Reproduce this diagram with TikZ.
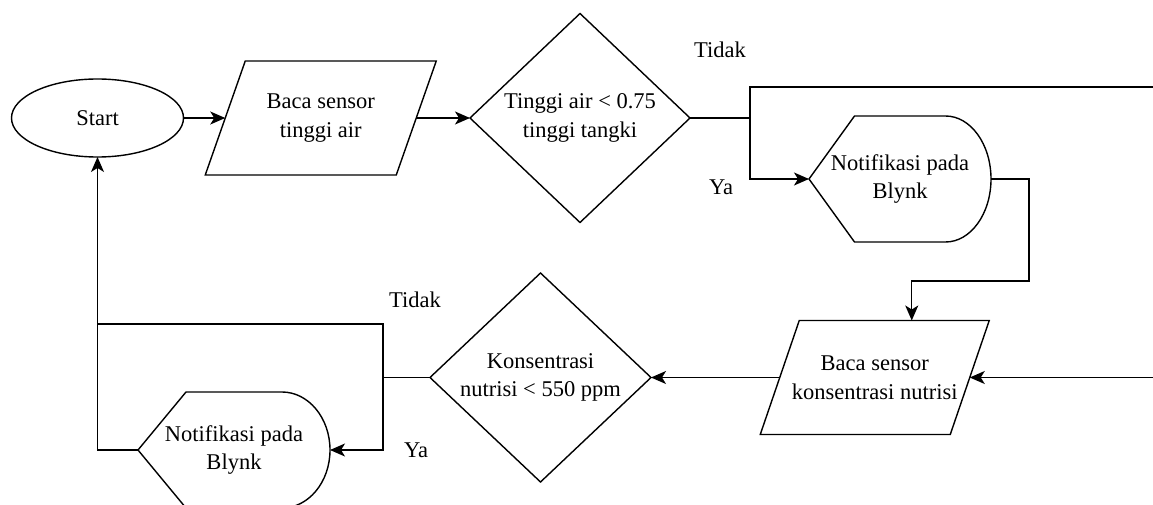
\documentclass[tikz,border=0pt]{standalone}
\usepackage{fontspec}
\setmainfont{Liberation Serif}
\usetikzlibrary{shapes.geometric,arrows.meta,calc}
\newcommand\drawpara[2]{%
  \draw[shp] ([xshift=#2]#1.north west) -- ([xshift=#2]#1.north east)
    -- ([xshift=-#2]#1.south east) -- ([xshift=-#2]#1.south west) -- cycle;}
% #1 name, #2 quarter width, #3 quarter width * 0.4477
\newcommand\drawdisplay[3]{%
  \draw[shp] (#1.west) -- ([xshift=#2]#1.north west) -- ([xshift=-#2]#1.north east)
    .. controls ([xshift=-#3]#1.north east) and ($(#1.east)!0.5523!(#1.north east)$) .. (#1.east)
    .. controls ($(#1.east)!0.5523!(#1.south east)$) and ([xshift=-#3]#1.south east) .. ([xshift=-#2]#1.south east)
    -- ([xshift=#2]#1.south west) -- cycle;}
\begin{document}
\begin{tikzpicture}[x=1pt,y=-1pt,
  line width=1.4pt,
  every node/.style={font=\fontsize{22.5}{28.5}\selectfont, inner sep=0pt, outer sep=0pt},
  shp/.style={draw=black, line width=1.4pt, line join=miter},
  box/.style={rectangle, align=center},
  dec/.style={diamond, shp, align=center},
  arr/.style={-{Stealth[length=15pt,width=13pt,inset=4pt]}}]
\useasboundingbox (0,0) rectangle (1153,505);
\clip (0,0) rectangle (1153,505);

% nodes
\node[ellipse, shp, minimum width=172pt, minimum height=78pt] (start) at (97.5,118) {Start};
\node[box, minimum width=191pt, minimum height=114pt] (p1) at (320.75,118) {Baca sensor\\tinggi air};
\node[dec, minimum width=220pt, minimum height=209pt] (d1) at (580,118) {Tinggi air < 0.75\\tinggi tangki};
\node[box, minimum width=182pt, minimum height=126pt] (b1) at (900,179) {Notifikasi pada\\Blynk};
\node[box, minimum width=190pt, minimum height=114pt] (p2) at (874.75,377.5) {Baca sensor\\konsentrasi nutrisi};
\node[dec, minimum width=221pt, minimum height=209pt] (d2) at (540.5,377.5) {Konsentrasi\\nutrisi < 550 ppm};
\node[box, minimum width=192pt, minimum height=116pt] (b2) at (234,450) {Notifikasi pada\\Blynk};

\drawpara{p1}{20pt}
\drawpara{p2}{19.5pt}
\drawdisplay{b1}{45.5pt}{20.37pt}
\drawdisplay{b2}{48pt}{21.49pt}

% labels
\node (t1) at (720,50) {Tidak};
\node (y1) at (721,187) {Ya};
\node (t2) at (415,300) {Tidak};
\node (y2) at (416,450) {Ya};

% coordinates
\coordinate (j1) at (750,118);
\coordinate (e1) at (1153,87);
\coordinate (e2) at (1153,377.5);
\coordinate (k1) at (1029,281);
\coordinate (j2) at (383,377.5);
\coordinate (m2) at (97.5,324);

% connectors
\draw[arr] (start) -- (p1);
\draw[arr] (p1) -- (d1);
\draw (d1.east) -- (j1) |- (e1);
\draw[arr] (j1) |- (b1.west);
\draw[arr] (b1.east) -| (k1) -| ([xshift=37pt]p2.north);
\draw[arr] (e2) -- (p2.east);
\draw[arr] (p2.west) -- (d2.east);
\draw (d2.west) -- (j2) |- (m2);
\draw[arr] (j2) |- (b2.east);
\draw[arr] (b2.west) -| (start.south);
\end{tikzpicture}
\end{document}
